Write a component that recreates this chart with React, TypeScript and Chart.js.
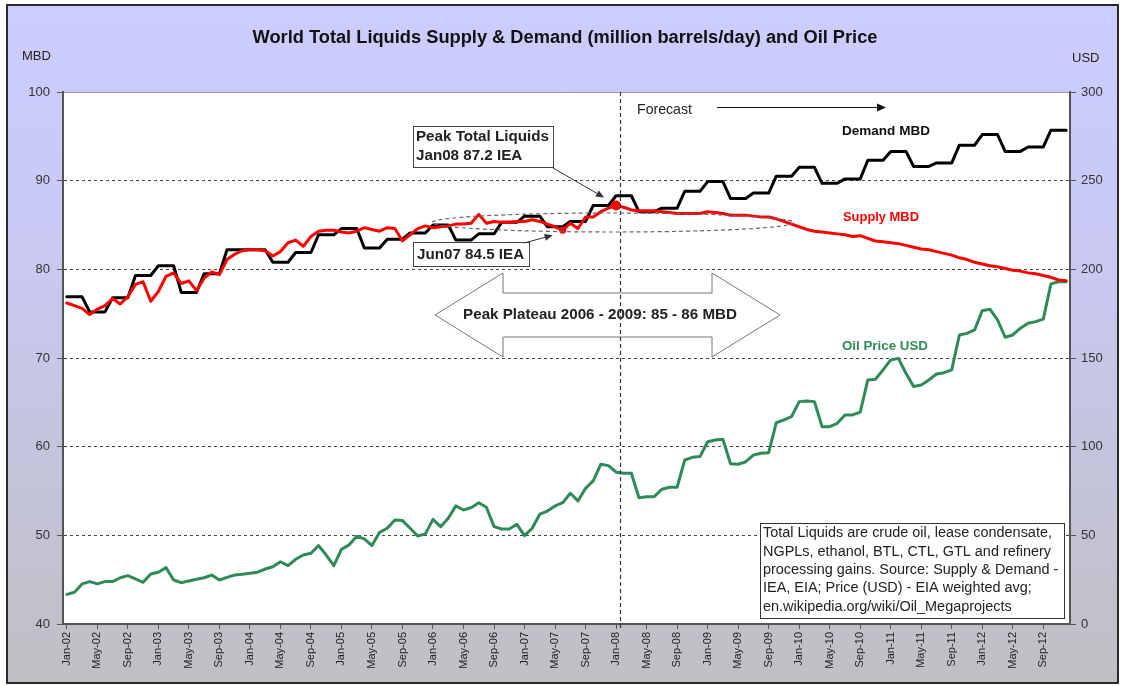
import React, { useEffect, useRef } from 'react';
import { Chart, registerables } from 'chart.js';

Chart.register(...registerables);

const W = 1122;
const H = 686;
const PLOT = { left: 63, right: 1070, top: 92, bottom: 624 };
const FONT = '"Liberation Sans", Arial, Helvetica, sans-serif';

const MONTHS = ['Jan', 'Feb', 'Mar', 'Apr', 'May', 'Jun', 'Jul', 'Aug', 'Sep', 'Oct', 'Nov', 'Dec'];
const YEARS = ['02', '03', '04', '05', '06', '07', '08', '09', '10', '11', '12'];
const CATEGORIES = YEARS.flatMap((y) => MONTHS.map((m) => `${m}-${y}`));

const DEMAND_MBD = [
  76.9, 76.9, 76.9, 75.2, 75.2, 75.2, 76.8, 76.8, 76.8, 79.3, 79.3, 79.3,
  80.4, 80.4, 80.4, 77.4, 77.4, 77.4, 79.5, 79.5, 79.5, 82.2, 82.2, 82.2,
  82.2, 82.2, 82.2, 80.8, 80.8, 80.8, 81.9, 81.9, 81.9, 83.9, 83.9, 83.9,
  84.6, 84.6, 84.6, 82.4, 82.4, 82.4, 83.4, 83.4, 83.4, 84.1, 84.1, 84.1,
  85.0, 85.0, 85.0, 83.3, 83.3, 83.3, 84.0, 84.0, 84.0, 85.3, 85.3, 85.3,
  86.0, 86.0, 86.0, 84.8, 84.8, 84.8, 85.4, 85.4, 85.4, 87.2, 87.2, 87.2,
  88.3, 88.3, 88.3, 86.5, 86.5, 86.5, 86.9, 86.9, 86.9, 88.8, 88.8, 88.8,
  89.9, 89.9, 89.9, 88.0, 88.0, 88.0, 88.6, 88.6, 88.6, 90.5, 90.5, 90.5,
  91.5, 91.5, 91.5, 89.7, 89.7, 89.7, 90.2, 90.2, 90.2, 92.3, 92.3, 92.3,
  93.3, 93.3, 93.3, 91.6, 91.6, 91.6, 92.0, 92.0, 92.0, 94.0, 94.0, 94.0,
  95.2, 95.2, 95.2, 93.3, 93.3, 93.3, 93.8, 93.8, 93.8, 95.7, 95.7, 95.7,
];

const SUPPLY_MBD = [
  76.2, 75.9, 75.6, 74.9, 75.5, 75.9, 76.7, 76.1, 76.9, 78.3, 78.6, 76.4,
  77.5, 79.2, 79.6, 78.4, 78.7, 77.6, 79.0, 79.7, 79.4, 81.1, 81.7, 82.1,
  82.2, 82.2, 82.1, 81.5, 82.0, 83.0, 83.3, 82.6, 83.7, 84.3, 84.4, 84.4,
  84.2, 84.1, 84.3, 84.7, 84.5, 84.3, 84.7, 84.6, 83.2, 83.9, 84.6, 84.9,
  84.7, 84.8, 84.9, 85.1, 85.1, 85.2, 86.2, 85.2, 85.4, 85.3, 85.3, 85.4,
  85.4, 85.6, 85.4, 85.1, 84.8, 84.4, 85.2, 84.6, 85.9, 85.9, 86.5, 86.9,
  87.2, 87.0, 86.7, 86.6, 86.6, 86.6, 86.5, 86.4, 86.3, 86.3, 86.3, 86.3,
  86.5, 86.4, 86.3, 86.1, 86.1, 86.1, 86.0, 85.9, 85.9, 85.7, 85.4, 85.1,
  84.8, 84.5, 84.3, 84.2, 84.1, 84.0, 83.9, 83.7, 83.8, 83.5, 83.2, 83.1,
  83.0, 82.9, 82.7, 82.5, 82.3, 82.2, 82.0, 81.8, 81.6, 81.3, 81.1, 80.8,
  80.6, 80.4, 80.3, 80.1, 79.9, 79.8, 79.6, 79.5, 79.3, 79.1, 78.8, 78.7,
];

const OIL_PRICE_USD = [
  16.7, 17.9, 22.6, 23.9, 22.6, 23.9, 23.9, 26.1, 27.3, 25.4, 23.5, 28.2,
  29.2, 31.8, 24.8, 23.3, 24.3, 25.2, 26.1, 27.6, 24.8, 26.3, 27.6, 28.0,
  28.6, 29.2, 31.0, 32.3, 35.1, 32.9, 36.5, 38.9, 39.9, 44.2, 38.9, 32.9,
  42.1, 44.6, 49.5, 48.0, 44.2, 51.7, 54.0, 58.7, 58.3, 54.0, 49.6, 50.8,
  59.0, 54.9, 59.6, 66.6, 64.3, 65.6, 68.4, 65.8, 54.9, 53.6, 53.6, 56.2,
  49.8, 54.0, 61.9, 63.7, 66.6, 68.4, 73.7, 69.4, 76.5, 80.7, 90.1, 89.3,
  85.6, 85.0, 85.0, 71.2, 71.8, 71.8, 76.0, 77.1, 77.1, 92.5, 94.0, 94.4,
  102.8, 103.8, 104.2, 90.4, 90.1, 91.5, 95.3, 96.3, 96.6, 113.5, 115.1, 116.9,
  125.4, 125.8, 125.4, 111.3, 111.3, 113.2, 117.9, 117.9, 119.5, 137.6, 138.0, 143.3,
  148.9, 149.8, 141.4, 133.9, 134.8, 137.6, 141.0, 141.7, 143.3, 163.0, 163.9, 165.8,
  176.7, 177.5, 171.5, 161.7, 163.0, 166.8, 169.6, 170.5, 171.9, 191.8, 193.0, 193.0,
];

const MBD_TICKS = { min: 40, max: 100, step: 10 };
const USD_TICKS = { min: 0, max: 300, step: 50 };
const LABEL_EVERY = 4;
const FORECAST_INDEX = CATEGORIES.indexOf('Jan-08');
const PEAK_INDEX = CATEGORIES.indexOf('Jan-08');
const JUN07_INDEX = CATEGORIES.indexOf('Jun-07');

const TITLE = 'World Total Liquids Supply & Demand (million barrels/day) and Oil Price';
const NOTE_LINES = [
  'Total Liquids are crude oil, lease condensate,',
  'NGPLs, ethanol, BTL, CTL, GTL and refinery',
  'processing gains. Source: Supply & Demand -',
  'IEA, EIA; Price (USD) - EIA weighted avg;',
  'en.wikipedia.org/wiki/Oil_Megaprojects',
];

const RED = '#ff0000';
const GREEN = '#2e8b57';

function fitSize(ctx: CanvasRenderingContext2D, text: string, weight: string, targetW: number) {
  ctx.font = `${weight} 20px ${FONT}`;
  return (20 * targetW) / ctx.measureText(text).width;
}

function drawText(
  ctx: CanvasRenderingContext2D,
  text: string,
  x: number,
  y: number,
  size: number,
  weight: string,
  color: string,
  align: CanvasTextAlign = 'left'
) {
  ctx.font = `${weight} ${size.toFixed(2)}px ${FONT}`;
  ctx.fillStyle = color;
  ctx.textAlign = align;
  ctx.textBaseline = 'middle';
  ctx.fillText(text, x, y);
}

function drawArrow(
  ctx: CanvasRenderingContext2D,
  x1: number,
  y1: number,
  x2: number,
  y2: number,
  color: string,
  head = 9,
  width = 1
) {
  const ang = Math.atan2(y2 - y1, x2 - x1);
  const c = Math.cos(ang);
  const s = Math.sin(ang);
  ctx.save();
  ctx.strokeStyle = color;
  ctx.fillStyle = color;
  ctx.lineWidth = width;
  ctx.beginPath();
  ctx.moveTo(x1, y1);
  ctx.lineTo(x2 - c * head * 0.7, y2 - s * head * 0.7);
  ctx.stroke();
  ctx.beginPath();
  ctx.moveTo(x2, y2);
  ctx.lineTo(x2 - head * c + head * 0.45 * s, y2 - head * s - head * 0.45 * c);
  ctx.lineTo(x2 - head * c - head * 0.45 * s, y2 - head * s + head * 0.45 * c);
  ctx.closePath();
  ctx.fill();
  ctx.restore();
}

const decorPlugin = {
  id: 'decor',
  beforeDraw(chart: any) {
    const { ctx, chartArea: a } = chart;
    ctx.save();
    ctx.fillStyle = '#ffffff';
    ctx.fillRect(0, 0, W, H);
    const g = ctx.createLinearGradient(0, 5, 0, 683);
    g.addColorStop(0, '#ccccff');
    g.addColorStop(0.35, '#c9c9f4');
    g.addColorStop(1, '#bfbfc3');
    ctx.fillStyle = g;
    ctx.fillRect(7, 5, 1111, 678);
    ctx.strokeStyle = '#2a2a2a';
    ctx.lineWidth = 2;
    ctx.strokeRect(7, 5, 1111, 678);
    ctx.fillStyle = '#ffffff';
    ctx.fillRect(a.left, a.top, a.right - a.left, a.bottom - a.top);
    ctx.strokeStyle = '#9a9a9a';
    ctx.lineWidth = 1;
    ctx.beginPath();
    ctx.moveTo(a.left, a.top + 0.5);
    ctx.lineTo(a.right, a.top + 0.5);
    ctx.stroke();

    // title and axis unit labels
    drawText(ctx, TITLE, 565, 38, fitSize(ctx, TITLE, 'bold', 625), 'bold', '#111', 'center');
    drawText(ctx, 'MBD', 22, 56, 13, 'normal', '#222');
    drawText(ctx, 'USD', 1072, 58, 13, 'normal', '#222');
    ctx.restore();
  },
  afterDatasetsDraw(chart: any) {
    const { ctx, chartArea: a, scales } = chart;
    const xs = scales.x;
    const yl = scales.y;
    ctx.save();

    // dashed ellipse around the plateau
    ctx.strokeStyle = '#666';
    ctx.lineWidth = 1.2;
    ctx.setLineDash([4, 3]);
    ctx.beginPath();
    ctx.ellipse(613, 222.5, 181, 9.5, 0, 0, Math.PI * 2);
    ctx.stroke();
    ctx.setLineDash([]);

    // Peak Plateau double arrow
    ctx.fillStyle = '#ffffff';
    ctx.strokeStyle = '#777';
    ctx.lineWidth = 1;
    ctx.beginPath();
    ctx.moveTo(435, 315);
    ctx.lineTo(503, 273);
    ctx.lineTo(503, 293);
    ctx.lineTo(712, 293);
    ctx.lineTo(712, 273);
    ctx.lineTo(780, 315);
    ctx.lineTo(712, 357);
    ctx.lineTo(712, 337);
    ctx.lineTo(503, 337);
    ctx.lineTo(503, 357);
    ctx.closePath();
    ctx.fill();
    ctx.stroke();
    const pl = 'Peak Plateau 2006 - 2009: 85 - 86 MBD';
    drawText(ctx, pl, 600, 315, fitSize(ctx, pl, 'bold', 274), 'bold', '#222', 'center');

    // Peak callout
    ctx.fillStyle = '#ffffff';
    ctx.strokeStyle = '#444';
    ctx.lineWidth = 1;
    ctx.fillRect(413, 126, 140, 41);
    ctx.strokeRect(413.5, 126.5, 140, 41);
    const cs = fitSize(ctx, 'Peak Total Liquids', 'bold', 133);
    drawText(ctx, 'Peak Total Liquids', 416, 136.5, cs, 'bold', '#222');
    drawText(ctx, 'Jan08 87.2 IEA', 416, 155.5, cs, 'bold', '#222');
    const px = xs.getPixelForValue(PEAK_INDEX);
    const py = yl.getPixelForValue(SUPPLY_MBD[PEAK_INDEX]);
    drawArrow(ctx, 553, 168, px - 12, py - 8, '#333', 8, 1);

    // Jun07 callout
    ctx.fillStyle = '#ffffff';
    ctx.fillRect(413, 242, 116, 24);
    ctx.strokeRect(413.5, 242.5, 116, 24);
    drawText(ctx, 'Jun07 84.5 IEA', 417, 254.5, cs, 'bold', '#222');
    const jx = xs.getPixelForValue(JUN07_INDEX);
    const jy = yl.getPixelForValue(SUPPLY_MBD[JUN07_INDEX]);
    drawArrow(ctx, 524, 243, jx - 10, jy + 5, '#333', 8, 1);

    // forecast vertical line
    const fx = Math.round(xs.getPixelForValue(FORECAST_INDEX) + xs.width / CATEGORIES.length / 2) + 0.5;
    ctx.strokeStyle = '#333';
    ctx.lineWidth = 1.2;
    ctx.setLineDash([4, 3]);
    ctx.beginPath();
    ctx.moveTo(fx, a.top);
    ctx.lineTo(fx, a.bottom + 6);
    ctx.stroke();
    ctx.setLineDash([]);

    // forecast label and arrow
    drawText(ctx, 'Forecast', 637, 110, fitSize(ctx, 'Forecast', 'normal', 55), 'normal', '#222');
    drawArrow(ctx, 717, 107.5, 886, 107.5, '#111', 9, 1);

    // series labels
    drawText(ctx, 'Demand MBD', 842, 131, fitSize(ctx, 'Demand MBD', 'bold', 88), 'bold', '#111');
    drawText(ctx, 'Supply MBD', 843, 217, fitSize(ctx, 'Supply MBD', 'bold', 76), 'bold', RED);
    drawText(ctx, 'Oil Price USD', 842, 346, fitSize(ctx, 'Oil Price USD', 'bold', 86), 'bold', GREEN);

    // note box
    ctx.fillStyle = '#ffffff';
    ctx.fillRect(760, 523, 304, 95);
    ctx.strokeStyle = '#333';
    ctx.lineWidth = 1;
    ctx.strokeRect(760.5, 523.5, 304, 95);
    const ns = fitSize(ctx, NOTE_LINES[0], 'normal', 289);
    NOTE_LINES.forEach((line, i) => {
      drawText(ctx, line, 763, 533.5 + i * 18.3, ns, 'normal', '#222');
    });

    ctx.restore();
  },
};

export default function App() {
  const ref = useRef<HTMLCanvasElement | null>(null);

  useEffect(() => {
    document.body.style.margin = '0';
    const canvas = ref.current;
    if (!canvas) return;
    const chart = new Chart(canvas, {
      type: 'line',
      data: {
        labels: CATEGORIES,
        datasets: [
          {
            label: 'Supply MBD',
            data: SUPPLY_MBD,
            yAxisID: 'y',
            borderColor: RED,
            backgroundColor: RED,
            borderWidth: 3,
            tension: 0,
            borderJoinStyle: 'round',
            borderCapStyle: 'round',
            pointRadius: (c: any) => (c.dataIndex === PEAK_INDEX ? 5 : c.dataIndex === JUN07_INDEX ? 3.5 : 0),
            pointBorderWidth: 0,
            pointBackgroundColor: RED,
          },
          {
            label: 'Demand MBD',
            data: DEMAND_MBD,
            yAxisID: 'y',
            borderColor: '#000',
            backgroundColor: '#000',
            borderWidth: 3,
            tension: 0,
            borderJoinStyle: 'round',
            borderCapStyle: 'round',
            pointRadius: 0,
          },
          {
            label: 'Oil Price USD',
            data: OIL_PRICE_USD,
            yAxisID: 'y1',
            borderColor: GREEN,
            backgroundColor: GREEN,
            borderWidth: 3,
            tension: 0,
            borderJoinStyle: 'round',
            borderCapStyle: 'round',
            pointRadius: 0,
          },
        ],
      },
      options: {
        responsive: false,
        animation: false,
        layout: { padding: { top: PLOT.top, left: 0, right: 0, bottom: 0 } },
        plugins: {
          legend: { display: false },
          tooltip: { enabled: false },
          title: { display: false },
        },
        scales: {
          x: {
            type: 'category',
            offset: true,
            grid: {
              display: true,
              drawOnChartArea: false,
              drawTicks: true,
              tickLength: 5,
              tickColor: '#555',
              color: '#555',
            },
            border: { display: true, color: '#555', width: 2 },
            ticks: {
              autoSkip: false,
              maxRotation: 90,
              minRotation: 90,
              padding: 3,
              color: '#222',
              font: { family: FONT, size: 11 },
              callback: (_v: any, i: number) => (i % LABEL_EVERY === 0 ? CATEGORIES[i] : null),
            },
            afterFit: (s: any) => {
              s.height = H - PLOT.bottom;
            },
          },
          y: {
            type: 'linear',
            position: 'left',
            min: MBD_TICKS.min,
            max: MBD_TICKS.max,
            ticks: {
              stepSize: MBD_TICKS.step,
              color: '#333',
              padding: 7,
              font: { family: FONT, size: 13 },
            },
            grid: {
              color: (c: any) =>
                c.tick && (c.tick.value === MBD_TICKS.min || c.tick.value === MBD_TICKS.max) ? 'rgba(0,0,0,0)' : '#444',
              tickColor: '#555',
              tickLength: 6,
              lineWidth: 1,
            },
            border: { display: true, color: '#555', width: 2, dash: [3, 3] },
            afterFit: (s: any) => {
              s.width = PLOT.left;
            },
          },
          y1: {
            type: 'linear',
            position: 'right',
            min: USD_TICKS.min,
            max: USD_TICKS.max,
            ticks: {
              stepSize: USD_TICKS.step,
              color: '#333',
              padding: 5,
              font: { family: FONT, size: 13 },
            },
            grid: { drawOnChartArea: false, tickColor: '#555', tickLength: 6 },
            border: { display: true, color: '#555', width: 2 },
            afterFit: (s: any) => {
              s.width = W - PLOT.right;
            },
          },
        },
      } as any,
      plugins: [decorPlugin],
    });
    return () => chart.destroy();
  }, []);

  return (
    <div style={{ width: W, height: H }}>
      <canvas ref={ref} width={W} height={H} style={{ display: 'block', width: W, height: H }} />
    </div>
  );
}
